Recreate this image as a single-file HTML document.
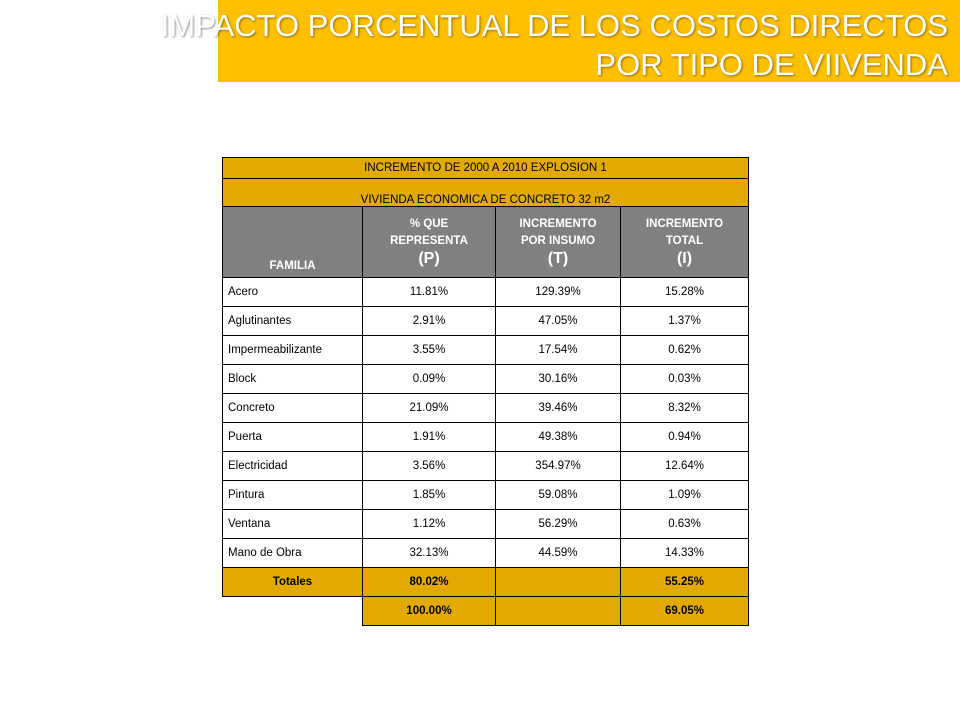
<!DOCTYPE html>
<html><head><meta charset="utf-8"><style>
body{margin:0;width:960px;height:720px;background:#fff;position:relative;overflow:hidden;font-family:"Liberation Sans",Arial,sans-serif}
#banner{position:absolute;left:218px;top:0;width:742px;height:82px;background:#FFC000}
#banner div{position:absolute;right:12px;color:#fff;font-family:"Liberation Sans Narrow","Liberation Sans",sans-serif;font-size:31px;white-space:nowrap;text-shadow:1px 1px 2px rgba(0,0,0,.45)}
table{position:absolute;left:222px;top:157px;border-collapse:collapse;font-size:11.5px;color:#000}
td{border:1px solid #000;padding:0;height:28px;text-align:center;vertical-align:middle}
.g{background:#E2AA00}
.h{background:#808080;color:#fff;font-weight:bold;height:68px;font-size:11.5px;line-height:17px}
.h b{font-size:16px}
.l{text-align:left;padding-left:5px}
.n{border:none;background:#fff}
</style></head><body>
<div id="banner">
<div style="top:8px">IMPACTO PORCENTUAL DE LOS COSTOS DIRECTOS</div>
<div style="top:47px">POR TIPO DE VIIVENDA</div>
</div>
<table>
<colgroup><col style="width:140px"><col style="width:133px"><col style="width:125px"><col style="width:128px"></colgroup>
<tr><td colspan="4" class="g" style="height:20px">INCREMENTO DE 2000 A 2010 EXPLOSION 1</td></tr>
<tr><td colspan="4" class="g" style="height:27px;vertical-align:bottom">VIVIENDA ECONOMICA DE CONCRETO 32 m2</td></tr>
<tr>
<td class="h" style="vertical-align:bottom;padding-bottom:2px">FAMILIA</td>
<td class="h">% QUE<br>REPRESENTA<br><b>(P)</b></td>
<td class="h">INCREMENTO<br>POR INSUMO<br><b>(T)</b></td>
<td class="h">INCREMENTO<br>TOTAL<br><b>(I)</b></td>
</tr>
<tr><td class="l">Acero</td><td>11.81%</td><td>129.39%</td><td>15.28%</td></tr>
<tr><td class="l">Aglutinantes</td><td>2.91%</td><td>47.05%</td><td>1.37%</td></tr>
<tr><td class="l">Impermeabilizante</td><td>3.55%</td><td>17.54%</td><td>0.62%</td></tr>
<tr><td class="l">Block</td><td>0.09%</td><td>30.16%</td><td>0.03%</td></tr>
<tr><td class="l">Concreto</td><td>21.09%</td><td>39.46%</td><td>8.32%</td></tr>
<tr><td class="l">Puerta</td><td>1.91%</td><td>49.38%</td><td>0.94%</td></tr>
<tr><td class="l">Electricidad</td><td>3.56%</td><td>354.97%</td><td>12.64%</td></tr>
<tr><td class="l">Pintura</td><td>1.85%</td><td>59.08%</td><td>1.09%</td></tr>
<tr><td class="l">Ventana</td><td>1.12%</td><td>56.29%</td><td>0.63%</td></tr>
<tr><td class="l">Mano de Obra</td><td>32.13%</td><td>44.59%</td><td>14.33%</td></tr>
<tr style="font-weight:bold"><td class="g">Totales</td><td class="g">80.02%</td><td class="g"></td><td class="g">55.25%</td></tr>
<tr style="font-weight:bold"><td class="n" style="border-top:1px solid #000"></td><td class="g">100.00%</td><td class="g"></td><td class="g">69.05%</td></tr>
</table>
</body></html>
